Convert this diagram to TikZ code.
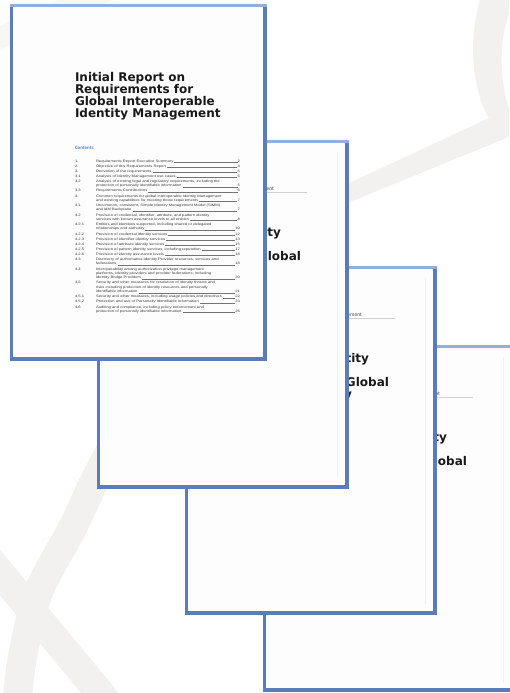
\documentclass[tikz,border=0pt]{standalone}
\usepackage{fontspec}
\newfontfamily\titlef{DejaVu Sans}
\newfontfamily\tocf{Carlito}
\newfontfamily\tocs{Liberation Sans}[FakeStretch=1.22]
\usetikzlibrary{calc}
\definecolor{band}{HTML}{F2F1EF}
\definecolor{pgblue}{HTML}{5A7CBA}
\definecolor{pgtop}{HTML}{93AEDC}
\definecolor{paper}{HTML}{FDFDFD}
\definecolor{tocblue}{HTML}{5B86C5}
\definecolor{toctext}{HTML}{3A3A3A}
\tikzset{
  bandline/.style={line width=29pt, draw=band, line cap=butt},
  txt/.style={inner sep=0pt, outer sep=0pt},
  titletxt/.style={txt, anchor=base west, font=\titlef\bfseries\fontsize{12}{12}\selectfont, text=black!90},
  backtitle/.style={txt, anchor=base east, font=\titlef\bfseries\fontsize{12}{12}\selectfont, text=black!90},
  backhead/.style={txt, anchor=base east, font=\tocf\fontsize{5.5}{5.5}\selectfont, text=black!70},
  toc/.style={txt, font=\tocs\fontsize{3.4}{3.4}\selectfont, text=toctext},
  leader/.style={draw=black!55, line width=0.3pt, dash pattern=on 0.35pt off 0.55pt},
  headrule/.style={draw=black!18, line width=0.7pt},
  edgeshade/.style={draw=black!5, line width=0.8pt},
}
\newcommand\docpage[5]{%
  \coordinate (#1) at (#2,#3);
  \fill[pgblue] (#1) rectangle ++(#4,#5);
  \fill[pgtop] (#1) rectangle ++(#4,3);
  \fill[paper] ($(#1)+(3,3)$) rectangle ($(#1)+(#4-4,#5-4)$);
}
\newcommand\backcontent[1]{%
  \draw[edgeshade] ($(#1)+(240,12)$) -- ($(#1)+(240,338)$);
  \node[backhead] (#1h) at ($(#1)+(177,50)$) {ITU-T Focus Group on Identity Management};
  \draw[headrule] ($(#1)+(120,52.5)$) -- ($(#1)+(210,52.5)$);
  \node[backtitle] (#1a) at ($(#1)+(184,96)$) {Report on Identity};
  \node[backtitle] (#1b) at ($(#1)+(137,108)$) {Management};
  \node[backtitle] (#1c) at ($(#1)+(204,120)$) {Framework for Global};
  \node[backtitle] (#1d) at ($(#1)+(167,132)$) {Interoperability};
}
\newcommand\tocnum[3]{\node[toc,anchor=base west] (#1) at (75,#2) {#3};}
\newcommand\toctext[3]{\node[toc,anchor=base west] (#1) at (96,#2) {#3};}
\newcommand\tocpage[3]{\node[toc,anchor=base east] (#1p) at (240,#2) {#3};
  \draw[leader] ($(#1.base east)+(1,0)$) -- ($(#1p.base west)+(-1,0)$);}
\begin{document}
\begin{tikzpicture}[x=1pt,y=-1pt]
\useasboundingbox (0,0) rectangle (509,693);
\fill[white] (0,0) rectangle (509,693);
% background ribbons
\fill[band] (480,0) .. controls (468,40) and (472,90) .. (489,118) -- (345,185) -- (345,204) -- (509,137) -- (509,108) .. controls (499,80) and (499,40) .. (509,14) -- (509,0) -- cycle;
\draw[bandline] plot[smooth] coordinates {(118,436) (94,482) (73,527) (38,593) (22,660) (17,705)};
\draw[bandline] (-12,558) -- (110,705);
\draw[bandline, line width=22pt, draw=band!60] (-10,42) -- (150,-28);
% back pages
\docpage{P4}{263}{345}{252}{347}
\backcontent{P4}
\docpage{P3}{185}{266}{252}{349}
\backcontent{P3}
\docpage{P2}{97}{140}{252}{349}
\backcontent{P2}
% front page
\docpage{P1}{10}{4}{257}{357}
\node[titletxt] (ti1) at (75,81.5) {Initial Report on};
\node[titletxt] (ti2) at (75,93.5) {Requirements for};
\node[titletxt] (ti3) at (75,105.5) {Global Interoperable};
\node[titletxt] (ti4) at (75,117.5) {Identity Management};
\node[txt, anchor=base west, font=\tocf\bfseries\fontsize{5}{5}\selectfont, text=tocblue] (contents) at (75,149.5) {Contents};
% table of contents
\tocnum{n1}{162}{1.}\toctext{t1}{162}{Requirements Report Executive Summary}\tocpage{t1}{162}{2}
\tocnum{n2}{167.1}{2.}\toctext{t2}{167.1}{Objective of this Requirements Report}\tocpage{t2}{167.1}{4}
\tocnum{n3}{172.2}{3.}\toctext{t3}{172.2}{Derivation of the requirements}\tocpage{t3}{172.2}{5}
\tocnum{n4}{177.3}{3.1}\toctext{t4}{177.3}{Analysis of Identity Management use cases}\tocpage{t4}{177.3}{5}
\tocnum{n5}{182.4}{3.2}\toctext{t5}{182.4}{Analysis of existing legal and regulatory requirements, including the}
\toctext{t6}{186.8}{protection of personally identifiable information}\tocpage{t6}{186.8}{5}
\tocnum{n7}{191.9}{3.3}\toctext{t7}{191.9}{Requirements Contributions}\tocpage{t7}{191.9}{6}
\tocnum{n8}{197.0}{4.}\toctext{t8}{197.0}{Common requirements for global interoperable Identity Management}
\toctext{t9}{201.4}{and existing capabilities for meeting those requirements}\tocpage{t9}{201.4}{7}
\tocnum{n10}{206.5}{4.1}\toctext{t10}{206.5}{Uncommon, consistent, Simple Identity Management Model (SIMM)}
\toctext{t11}{210.9}{and IdM Backplane}\tocpage{t11}{210.9}{7}
\tocnum{n12}{216.0}{4.2}\toctext{t12}{216.0}{Provision of credential, identifier, attribute, and pattern identity}
\toctext{t13}{220.4}{services with known assurance levels to all entities}\tocpage{t13}{220.4}{8}
\tocnum{n14}{225.5}{4.2.1}\toctext{t14}{225.5}{Entities and identities supported, including shared or delegated}
\toctext{t15}{229.9}{relationships and authority}\tocpage{t15}{229.9}{10}
\tocnum{n16}{235.0}{4.2.2}\toctext{t16}{235.0}{Provision of credential identity services}\tocpage{t16}{235.0}{12}
\tocnum{n17}{240.1}{4.2.3}\toctext{t17}{240.1}{Provision of identifier identity services}\tocpage{t17}{240.1}{13}
\tocnum{n18}{245.2}{4.2.4}\toctext{t18}{245.2}{Provision of attribute identity services}\tocpage{t18}{245.2}{15}
\tocnum{n19}{250.3}{4.2.5}\toctext{t19}{250.3}{Provision of pattern identity services, including reputation}\tocpage{t19}{250.3}{17}
\tocnum{n20}{255.4}{4.2.6}\toctext{t20}{255.4}{Provision of identity assurance levels}\tocpage{t20}{255.4}{18}
\tocnum{n21}{260.5}{4.3}\toctext{t21}{260.5}{Discovery of authoritative Identity Provider resources, services and}
\toctext{t22}{264.9}{federations}\tocpage{t22}{264.9}{18}
\tocnum{n23}{270.0}{4.4}\toctext{t23}{270.0}{Interoperability among authorization privilege management}
\toctext{t24}{274.4}{platforms, identity providers and provider federations, including}
\toctext{t25}{278.8}{Identity Bridge Providers}\tocpage{t25}{278.8}{20}
\tocnum{n26}{283.9}{4.5}\toctext{t26}{283.9}{Security and other measures for resolution of identity threats and}
\toctext{t27}{288.3}{risks including protection of identity resources and personally}
\toctext{t28}{292.7}{identifiable information}\tocpage{t28}{292.7}{21}
\tocnum{n29}{297.8}{4.5.1}\toctext{t29}{297.8}{Security and other measures, including usage policies and directives}\tocpage{t29}{297.8}{22}
\tocnum{n30}{302.9}{4.5.2}\toctext{t30}{302.9}{Protection and use of Personally Identifiable Information}\tocpage{t30}{302.9}{23}
\tocnum{n31}{308.0}{4.6}\toctext{t31}{308.0}{Auditing and compliance, including policy enforcement and}
\toctext{t32}{312.4}{protection of personally identifiable information}\tocpage{t32}{312.4}{26}
\end{tikzpicture}
\end{document}
